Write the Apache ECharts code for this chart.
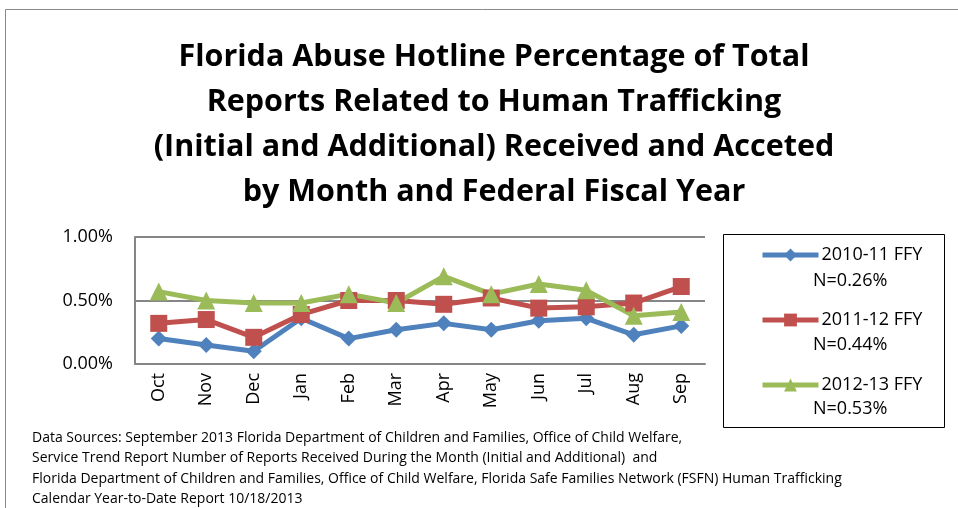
<!DOCTYPE html>
<html>
<head>
<meta charset="utf-8">
<script src="https://cdn.jsdelivr.net/npm/echarts@6/dist/echarts.min.js"></script>
<style>
html, body { margin: 0; padding: 0; background: #fff; }
#chart { width: 958px; height: 508px; }
</style>
</head>
<body>
<div id="chart"></div>
<script>
// months of the federal fiscal year
var months = ['Oct', 'Nov', 'Dec', 'Jan', 'Feb', 'Mar', 'Apr', 'May', 'Jun', 'Jul', 'Aug', 'Sep'];
// percent of total reports
var ffy1011 = [0.20, 0.15, 0.10, 0.36, 0.20, 0.27, 0.32, 0.27, 0.34, 0.36, 0.23, 0.30];
var ffy1112 = [0.32, 0.35, 0.21, 0.39, 0.50, 0.50, 0.47, 0.52, 0.44, 0.45, 0.48, 0.61];
var ffy1213 = [0.57, 0.50, 0.48, 0.48, 0.55, 0.48, 0.69, 0.55, 0.63, 0.58, 0.38, 0.41];
var seriesNames = ['2010-11 FFY', '2011-12 FFY', '2012-13 FFY'];
var averages = ['N=0.26%', 'N=0.44%', 'N=0.53%'];
var titleLines = [
  'Florida Abuse Hotline Percentage of Total',
  'Reports Related to Human Trafficking',
  '(Initial and Additional) Received and Acceted',
  'by Month and Federal Fiscal Year'
];
var sourceLines = [
  'Data Sources: September 2013 Florida Department of Children and Families, Office of Child Welfare,',
  'Service Trend Report Number of Reports Received During the Month (Initial and Additional)  and',
  'Florida Department of Children and Families, Office of Child Welfare, Florida Safe Families Network (FSFN) Human Trafficking',
  'Calendar Year-to-Date Report 10/18/2013'
];

var font = '"Open Sans", "Liberation Sans", sans-serif';
var colors = ['#4F81BD', '#C0504D', '#9BBB59'];

var myChart = echarts.init(document.getElementById('chart'));

var graphics = [
  // outer frame
  { type: 'rect', shape: { x: 5.5, y: 9.5, width: 980, height: 540 },
    style: { fill: 'none', stroke: '#8a8a8a', lineWidth: 1 }, silent: true },
  // legend frame
  { type: 'rect', shape: { x: 723.5, y: 234.5, width: 221, height: 193 },
    style: { fill: 'none', stroke: '#000', lineWidth: 1 }, silent: true }
];
for (var i = 0; i < averages.length; i++) {
  graphics.push({
    type: 'text', left: 813, top: 272 + i * 64,
    style: { text: averages[i], font: '18px ' + font, fill: '#000' }
  });
}
for (var k = 0; k < sourceLines.length; k++) {
  graphics.push({
    type: 'text', left: 32, top: 431 + k * 20.5,
    style: { text: sourceLines[k], font: '14px ' + font, fill: '#000' }
  });
}

var option = {
  animation: false,
  color: colors,
  title: {
    text: titleLines.join('\n'),
    left: 489,
    textAlign: 'center',
    top: 30,
    textStyle: { fontFamily: font, fontWeight: 'bold', fontSize: 30.5, lineHeight: 45, color: '#000' }
  },
  legend: {
    orient: 'vertical',
    left: 755,
    top: 241,
    itemWidth: 56,
    itemHeight: 16,
    itemGap: 47,
    data: seriesNames,
    lineStyle: { width: 5 },
    textStyle: { fontFamily: font, fontSize: 18, color: '#000', padding: [0, 0, 0, -2] }
  },
  grid: { left: 135, right: 253, top: 237, bottom: 144 },
  xAxis: {
    type: 'category',
    data: months,
    boundaryGap: true,
    axisLine: { lineStyle: { color: '#868686', width: 2 } },
    axisTick: { show: false },
    axisLabel: { rotate: 90, margin: 9, fontFamily: font, fontSize: 18, color: '#000' }
  },
  yAxis: {
    type: 'value',
    min: 0,
    max: 1,
    interval: 0.5,
    axisLine: { show: true, lineStyle: { color: '#868686', width: 2 } },
    axisTick: { show: false },
    splitLine: { lineStyle: { color: '#868686', width: 2 } },
    axisLabel: {
      margin: 22, fontFamily: font, fontSize: 18, color: '#000',
      formatter: function (v) { return v.toFixed(2) + '%'; }
    }
  },
  series: [
    { name: seriesNames[0], type: 'line', data: ffy1011, symbol: 'diamond', symbolSize: 16,
      lineStyle: { width: 5 } },
    { name: seriesNames[1], type: 'line', data: ffy1112, symbol: 'rect', symbolSize: 17,
      lineStyle: { width: 5 } },
    { name: seriesNames[2], type: 'line', data: ffy1213, symbol: 'triangle', symbolSize: 18,
      lineStyle: { width: 5 } }
  ],
  graphic: graphics
};
myChart.setOption(option);
</script>
</body>
</html>
